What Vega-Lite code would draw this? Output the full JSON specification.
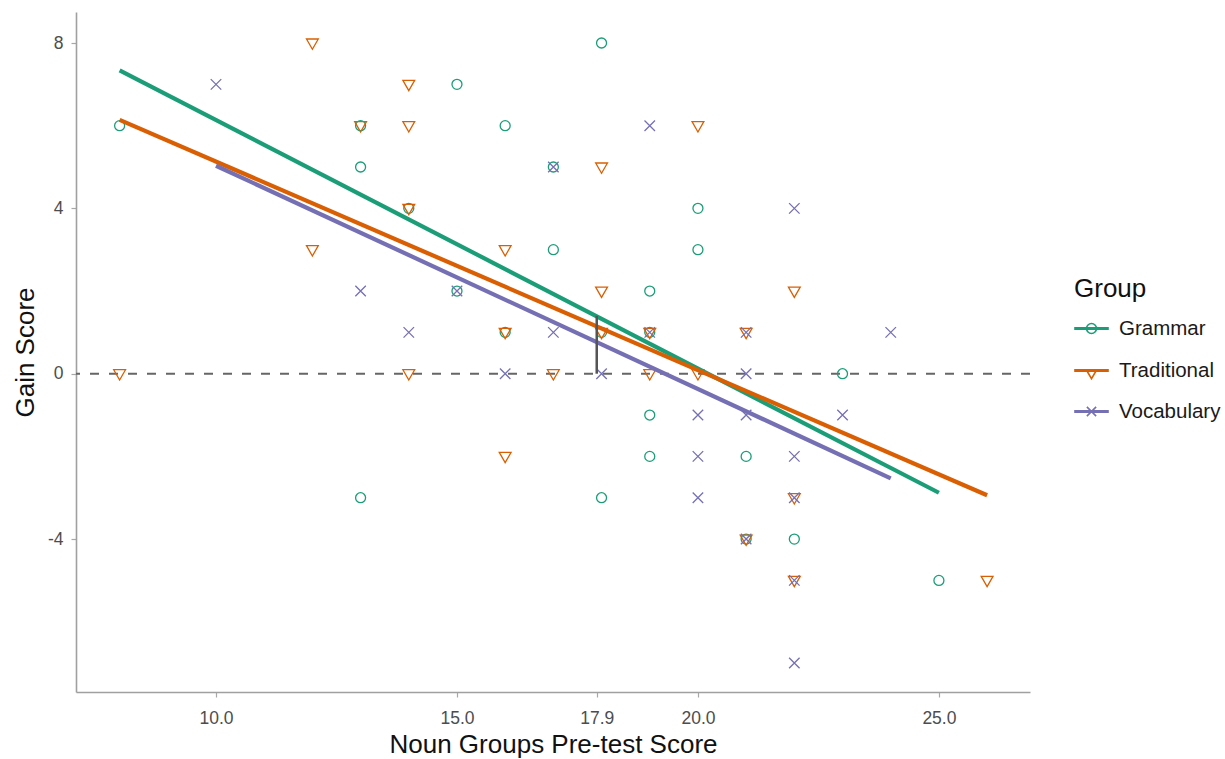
{
  "$schema": "https://vega.github.io/schema/vega-lite/v6.json",
  "width": 954,
  "height": 680,
  "autosize": "none",
  "padding": {"left": 76, "top": 12, "right": 195, "bottom": 67},
  "background": "white",
  "config": {
    "view": {"stroke": null},
    "font": "Liberation Sans",
    "axis": {
      "grid": false,
      "domainColor": "#a0a0a0",
      "domainWidth": 1.6,
      "tickColor": "#a8a8a8",
      "tickWidth": 1.2,
      "tickSize": 5,
      "labelColor": "#4d4d4d",
      "labelFontSize": 17.5,
      "labelFont": "Liberation Sans",
      "titleFont": "Liberation Sans",
      "titleFontSize": 26,
      "titleFontWeight": "normal",
      "titleColor": "#111111"
    },
    "legend": {
      "orient": "none",
      "legendX": 998,
      "titleFontSize": 26,
      "titleFontWeight": "normal",
      "titleColor": "#111111",
      "titlePadding": 9,
      "labelFontSize": 20.5,
      "labelColor": "#1a1a1a",
      "labelOffset": 10,
      "symbolSize": 1089,
      "symbolStrokeWidth": 1.6,
      "symbolOpacity": 1
    }
  },
  "datasets": {
    "pts": [
      {"group": "Grammar", "x": 8, "y": 6}, {"group": "Grammar", "x": 13, "y": 6}, {"group": "Grammar", "x": 13, "y": 5}, {"group": "Grammar", "x": 13, "y": -3}, {"group": "Grammar", "x": 14, "y": 4}, {"group": "Grammar", "x": 15, "y": 7}, {"group": "Grammar", "x": 15, "y": 2}, {"group": "Grammar", "x": 16, "y": 6}, {"group": "Grammar", "x": 16, "y": 1}, {"group": "Grammar", "x": 17, "y": 5}, {"group": "Grammar", "x": 17, "y": 3}, {"group": "Grammar", "x": 18, "y": 8}, {"group": "Grammar", "x": 18, "y": 1}, {"group": "Grammar", "x": 18, "y": -3}, {"group": "Grammar", "x": 19, "y": 2}, {"group": "Grammar", "x": 19, "y": 1}, {"group": "Grammar", "x": 19, "y": -1}, {"group": "Grammar", "x": 19, "y": -2}, {"group": "Grammar", "x": 20, "y": 4}, {"group": "Grammar", "x": 20, "y": 3}, {"group": "Grammar", "x": 21, "y": -2}, {"group": "Grammar", "x": 21, "y": -4}, {"group": "Grammar", "x": 22, "y": -4}, {"group": "Grammar", "x": 23, "y": 0}, {"group": "Grammar", "x": 25, "y": -5},
      {"group": "Traditional", "x": 8, "y": 0}, {"group": "Traditional", "x": 12, "y": 8}, {"group": "Traditional", "x": 12, "y": 3}, {"group": "Traditional", "x": 13, "y": 6}, {"group": "Traditional", "x": 14, "y": 7}, {"group": "Traditional", "x": 14, "y": 6}, {"group": "Traditional", "x": 14, "y": 4}, {"group": "Traditional", "x": 14, "y": 0}, {"group": "Traditional", "x": 16, "y": 3}, {"group": "Traditional", "x": 16, "y": 1}, {"group": "Traditional", "x": 16, "y": -2}, {"group": "Traditional", "x": 17, "y": 0}, {"group": "Traditional", "x": 18, "y": 5}, {"group": "Traditional", "x": 18, "y": 2}, {"group": "Traditional", "x": 18, "y": 1}, {"group": "Traditional", "x": 19, "y": 1}, {"group": "Traditional", "x": 19, "y": 0}, {"group": "Traditional", "x": 20, "y": 6}, {"group": "Traditional", "x": 20, "y": 0}, {"group": "Traditional", "x": 21, "y": 1}, {"group": "Traditional", "x": 21, "y": -4}, {"group": "Traditional", "x": 22, "y": 2}, {"group": "Traditional", "x": 22, "y": -3}, {"group": "Traditional", "x": 22, "y": -5}, {"group": "Traditional", "x": 26, "y": -5},
      {"group": "Vocabulary", "x": 10, "y": 7}, {"group": "Vocabulary", "x": 13, "y": 2}, {"group": "Vocabulary", "x": 14, "y": 1}, {"group": "Vocabulary", "x": 15, "y": 2}, {"group": "Vocabulary", "x": 16, "y": 0}, {"group": "Vocabulary", "x": 17, "y": 5}, {"group": "Vocabulary", "x": 17, "y": 1}, {"group": "Vocabulary", "x": 18, "y": 0}, {"group": "Vocabulary", "x": 19, "y": 6}, {"group": "Vocabulary", "x": 19, "y": 1}, {"group": "Vocabulary", "x": 20, "y": -1}, {"group": "Vocabulary", "x": 20, "y": -2}, {"group": "Vocabulary", "x": 20, "y": -3}, {"group": "Vocabulary", "x": 21, "y": 1}, {"group": "Vocabulary", "x": 21, "y": 0}, {"group": "Vocabulary", "x": 21, "y": -1}, {"group": "Vocabulary", "x": 21, "y": -4}, {"group": "Vocabulary", "x": 22, "y": 4}, {"group": "Vocabulary", "x": 22, "y": -2}, {"group": "Vocabulary", "x": 22, "y": -3}, {"group": "Vocabulary", "x": 22, "y": -5}, {"group": "Vocabulary", "x": 22, "y": -7}, {"group": "Vocabulary", "x": 23, "y": -1}, {"group": "Vocabulary", "x": 24, "y": 1}
    ],
    "fits": [
      {"group": "Grammar", "x": 8, "y": 7.34}, {"group": "Grammar", "x": 25, "y": -2.88},
      {"group": "Traditional", "x": 8, "y": 6.14}, {"group": "Traditional", "x": 26, "y": -2.94},
      {"group": "Vocabulary", "x": 10, "y": 5.03}, {"group": "Vocabulary", "x": 24, "y": -2.53}
    ],
    "zero": [{"y": 0}],
    "seg": [{"x": 17.9, "y": 0, "y2": 1.4}]
  },
  "resolve": {"scale": {"shape": "independent"}},
  "layer": [
    {
      "data": {"name": "zero"},
      "mark": {"type": "rule", "color": "#666666", "strokeWidth": 2, "strokeDash": [9, 10]},
      "encoding": {"y": {"field": "y", "type": "quantitative", "scale": {"domain": [-7.7, 8.75], "nice": false, "zero": false}}}
    },
    {
      "data": {"name": "pts"},
      "mark": {"type": "point", "filled": false, "strokeWidth": 1.3, "size": 100, "opacity": 1},
      "encoding": {
        "x": {
          "field": "x", "type": "quantitative",
          "scale": {"domain": [7.095, 26.89], "nice": false, "zero": false},
          "axis": {"values": [10, 15, 17.9, 20, 25], "format": ".1f", "title": "Noun Groups Pre-test Score", "labelPadding": 12, "titlePadding": 5}
        },
        "y": {
          "field": "y", "type": "quantitative",
          "scale": {"domain": [-7.7, 8.75], "nice": false, "zero": false},
          "axis": {"values": [-4, 0, 4, 8], "labelExpr": "'' + datum.value", "title": "Gain Score", "labelPadding": 8, "titlePadding": 9}
        },
        "color": {
          "field": "group", "type": "nominal",
          "scale": {"domain": ["Grammar", "Traditional", "Vocabulary"], "range": ["#1B9E77", "#D95F02", "#7570B3"]},
          "legend": null
        },
        "shape": {
          "field": "group", "type": "nominal",
          "scale": {"domain": ["Grammar", "Traditional", "Vocabulary"], "range": ["circle", "M-1.18,-0.8L1.18,-0.8L0,1.26Z", "M-1.05,-1.05L1.05,1.05M-1.05,1.05L1.05,-1.05"]},
          "legend": null
        }
      }
    },
    {
      "data": {"name": "pts"},
      "transform": [{"filter": "false"}],
      "mark": {"type": "point", "filled": false, "strokeWidth": 1.6, "opacity": 1, "color": "#1B9E77"},
      "encoding": {
        "x": {"field": "x", "type": "quantitative"},
        "y": {"field": "y", "type": "quantitative"},
        "shape": {
          "field": "group", "type": "nominal",
          "scale": {"domain": ["Grammar"], "range": ["M-1,-0.045H1V0.045H-1Z M-0.3,0A0.3,0.3 0 1,0 0.3,0A0.3,0.3 0 1,0 -0.3,0Z"]},
          "legend": {"title": "Group", "legendY": 264}
        }
      }
    },
    {
      "data": {"name": "pts"},
      "transform": [{"filter": "false"}],
      "mark": {"type": "point", "filled": false, "strokeWidth": 1.6, "opacity": 1, "color": "#D95F02"},
      "encoding": {
        "x": {"field": "x", "type": "quantitative"},
        "y": {"field": "y", "type": "quantitative"},
        "shape": {
          "field": "group", "type": "nominal",
          "scale": {"domain": ["Traditional"], "range": ["M-1,-0.045H1V0.045H-1Z M-0.32,-0.05H0.32L0,0.5Z"]},
          "legend": {"title": null, "legendY": 341}
        }
      }
    },
    {
      "data": {"name": "pts"},
      "transform": [{"filter": "false"}],
      "mark": {"type": "point", "filled": false, "strokeWidth": 1.6, "opacity": 1, "color": "#7570B3"},
      "encoding": {
        "x": {"field": "x", "type": "quantitative"},
        "y": {"field": "y", "type": "quantitative"},
        "shape": {
          "field": "group", "type": "nominal",
          "scale": {"domain": ["Vocabulary"], "range": ["M-1,-0.045H1V0.045H-1Z M-0.28,-0.28L0.28,0.28M-0.28,0.28L0.28,-0.28"]},
          "legend": {"title": null, "legendY": 382}
        }
      }
    },
    {
      "data": {"name": "fits"},
      "mark": {"type": "line", "strokeWidth": 4.2},
      "encoding": {
        "x": {"field": "x", "type": "quantitative"},
        "y": {"field": "y", "type": "quantitative"},
        "color": {"field": "group", "type": "nominal", "legend": null},
        "detail": {"field": "group"}
      }
    },
    {
      "data": {"name": "seg"},
      "mark": {"type": "rule", "color": "#555555", "strokeWidth": 2.5},
      "encoding": {
        "x": {"field": "x", "type": "quantitative"},
        "y": {"field": "y", "type": "quantitative"},
        "y2": {"field": "y2"}
      }
    }
  ]
}
